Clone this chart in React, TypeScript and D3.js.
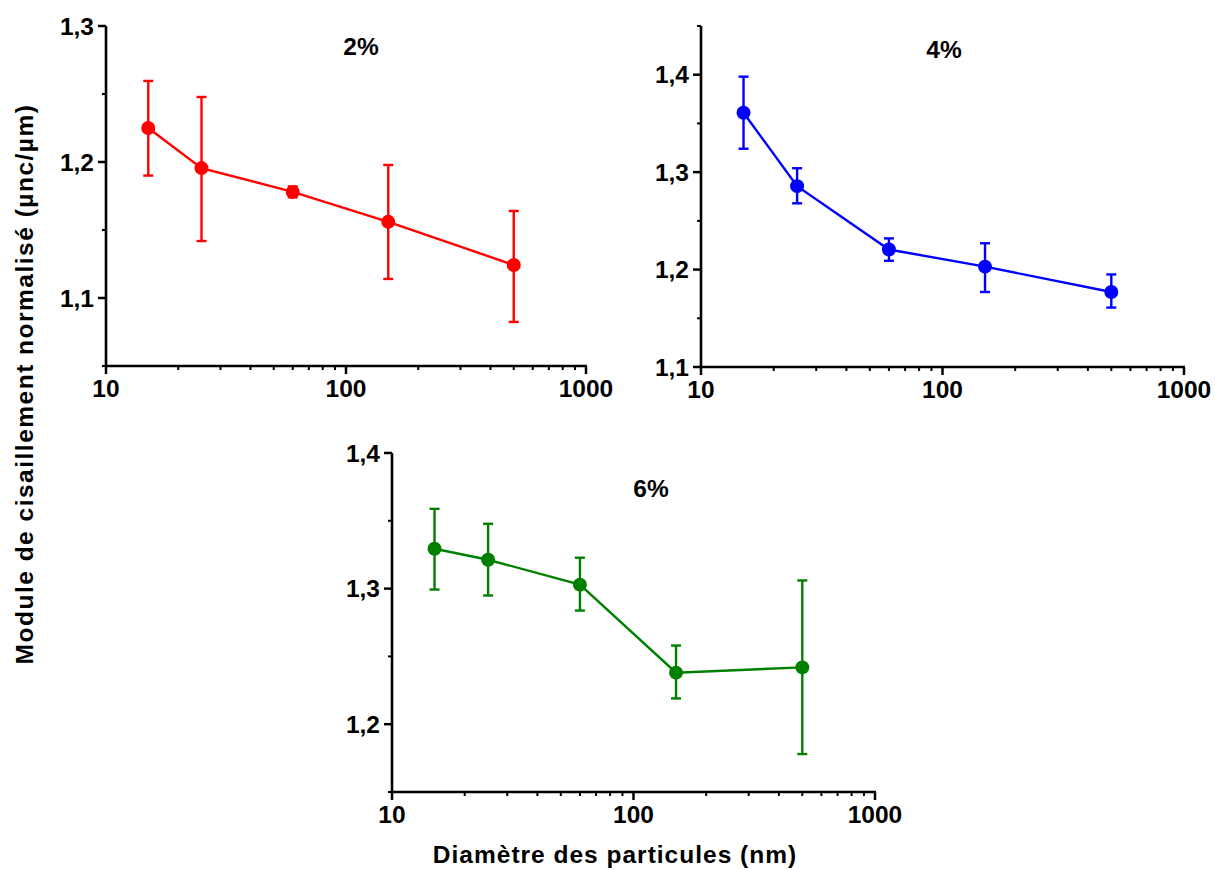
import React from "react";
import * as d3 from "d3";

const diameters = [15, 25, 60, 150, 500];

const values2 = [1.225, 1.1955, 1.178, 1.156, 1.1243];
const errHigh2 = [1.2596, 1.2478, 1.182, 1.1978, 1.164];
const errLow2 = [1.190, 1.1419, 1.174, 1.114, 1.0824];

const values4 = [1.361, 1.2856, 1.2206, 1.203, 1.177];
const errHigh4 = [1.398, 1.304, 1.232, 1.227, 1.195];
const errLow4 = [1.324, 1.268, 1.209, 1.177, 1.161];

const values6 = [1.3294, 1.3213, 1.3029, 1.238, 1.2419];
const errHigh6 = [1.3588, 1.3478, 1.3228, 1.258, 1.306];
const errLow6 = [1.2993, 1.2949, 1.2838, 1.219, 1.178];

const xTickLabels = ["10", "100", "1000"];
const titles = ["2%", "4%", "6%"];
const yLabel = "Module de cisaillement normalisé (µnc/µm)";
const xLabel = "Diamètre des particules (nm)";

const FONT = "'Liberation Sans', Arial, sans-serif";
const FS = 24.5;

type PanelProps = {
  left: number; right: number; top: number; bottom: number;
  yDomain: [number, number];
  yMajor: number[]; yMinor: number[];
  values: number[]; hi: number[]; lo: number[];
  color: string; title: string; titleX: number; titleY: number;
};

function fmt(v: number) {
  return v.toFixed(1).replace(".", ",");
}

function Panel(p: PanelProps) {
  const x = d3.scaleLog().domain([10, 1000]).range([p.left, p.right]);
  const y = d3.scaleLinear().domain(p.yDomain).range([p.bottom, p.top]);
  const majorX = [10, 100, 1000];
  const minorX: number[] = [];
  for (const dec of [10, 100]) for (let k = 2; k <= 9; k++) minorX.push(dec * k);
  const line = d3.line<number>().x((_, i) => x(diameters[i])).y((v) => y(v));
  const cap = 5;
  return (
    <g>
      <line x1={p.left} x2={p.left} y1={p.top} y2={p.bottom + 1} stroke="#000" strokeWidth={2.6} />
      <line x1={p.left - 1} x2={p.right + 1} y1={p.bottom} y2={p.bottom} stroke="#000" strokeWidth={2.6} />
      {p.yMajor.map((t) => (
        <g key={"ym" + t}>
          <line x1={p.left - 8} x2={p.left} y1={y(t)} y2={y(t)} stroke="#000" strokeWidth={2.5} />
          <text x={p.left - 12} y={y(t) + 8.5} textAnchor="end" fontFamily={FONT} fontWeight="bold" fontSize={FS}>{fmt(t)}</text>
        </g>
      ))}
      {p.yMinor.map((t) => (
        <line key={"yn" + t} x1={p.left - 4} x2={p.left} y1={y(t)} y2={y(t)} stroke="#000" strokeWidth={2} />
      ))}
      {majorX.map((t, i) => (
        <g key={"xm" + t}>
          <line x1={x(t)} x2={x(t)} y1={p.bottom} y2={p.bottom + 8} stroke="#000" strokeWidth={2.5} />
          <text x={x(t)} y={p.bottom + 31} textAnchor="middle" fontFamily={FONT} fontWeight="bold" fontSize={FS}>{xTickLabels[i]}</text>
        </g>
      ))}
      {minorX.map((t) => (
        <line key={"xn" + t} x1={x(t)} x2={x(t)} y1={p.bottom} y2={p.bottom + 4} stroke="#000" strokeWidth={2} />
      ))}
      {diameters.map((d, i) => (
        <g key={"e" + d} stroke={p.color} strokeWidth={2.4}>
          <line x1={x(d)} x2={x(d)} y1={y(p.hi[i])} y2={y(p.lo[i])} />
          <line x1={x(d) - cap} x2={x(d) + cap} y1={y(p.hi[i])} y2={y(p.hi[i])} />
          <line x1={x(d) - cap} x2={x(d) + cap} y1={y(p.lo[i])} y2={y(p.lo[i])} />
        </g>
      ))}
      <path d={line(p.values) || ""} fill="none" stroke={p.color} strokeWidth={2.4} />
      {diameters.map((d, i) => (
        <circle key={"c" + d} cx={x(d)} cy={y(p.values[i])} r={7} fill={p.color} />
      ))}
      <text x={p.titleX} y={p.titleY} textAnchor="middle" fontFamily={FONT} fontWeight="bold" fontSize={FS}>{p.title}</text>
    </g>
  );
}

export default function App() {
  return (
    <svg width={1215} height={870} style={{ position: "absolute", left: 0, top: 0, background: "#fff" }}>
      <rect x={0} y={0} width={1215} height={870} fill="#fff" />
      <Panel left={106} right={586} top={26} bottom={366} yDomain={[1.05, 1.3]}
        yMajor={[1.1, 1.2, 1.3]} yMinor={[1.05, 1.15, 1.25]}
        values={values2} hi={errHigh2} lo={errLow2} color="#ff0000"
        title={titles[0]} titleX={361} titleY={55} />
      <Panel left={701} right={1184} top={26} bottom={367} yDomain={[1.1, 1.45]}
        yMajor={[1.1, 1.2, 1.3, 1.4]} yMinor={[1.15, 1.25, 1.35, 1.45]}
        values={values4} hi={errHigh4} lo={errLow4} color="#0000ff"
        title={titles[1]} titleX={944} titleY={58} />
      <Panel left={392} right={875} top={453} bottom={792} yDomain={[1.15, 1.4]}
        yMajor={[1.2, 1.3, 1.4]} yMinor={[1.15, 1.25, 1.35]}
        values={values6} hi={errHigh6} lo={errLow6} color="#008000"
        title={titles[2]} titleX={651} titleY={497} />
      <text transform="translate(33,384) rotate(-90)" textAnchor="middle" fontFamily={FONT} fontWeight="bold" fontSize={FS} letterSpacing={1.5}>{yLabel}</text>
      <text x={615} y={863} textAnchor="middle" fontFamily={FONT} fontWeight="bold" fontSize={FS} letterSpacing={1}>{xLabel}</text>
    </svg>
  );
}
